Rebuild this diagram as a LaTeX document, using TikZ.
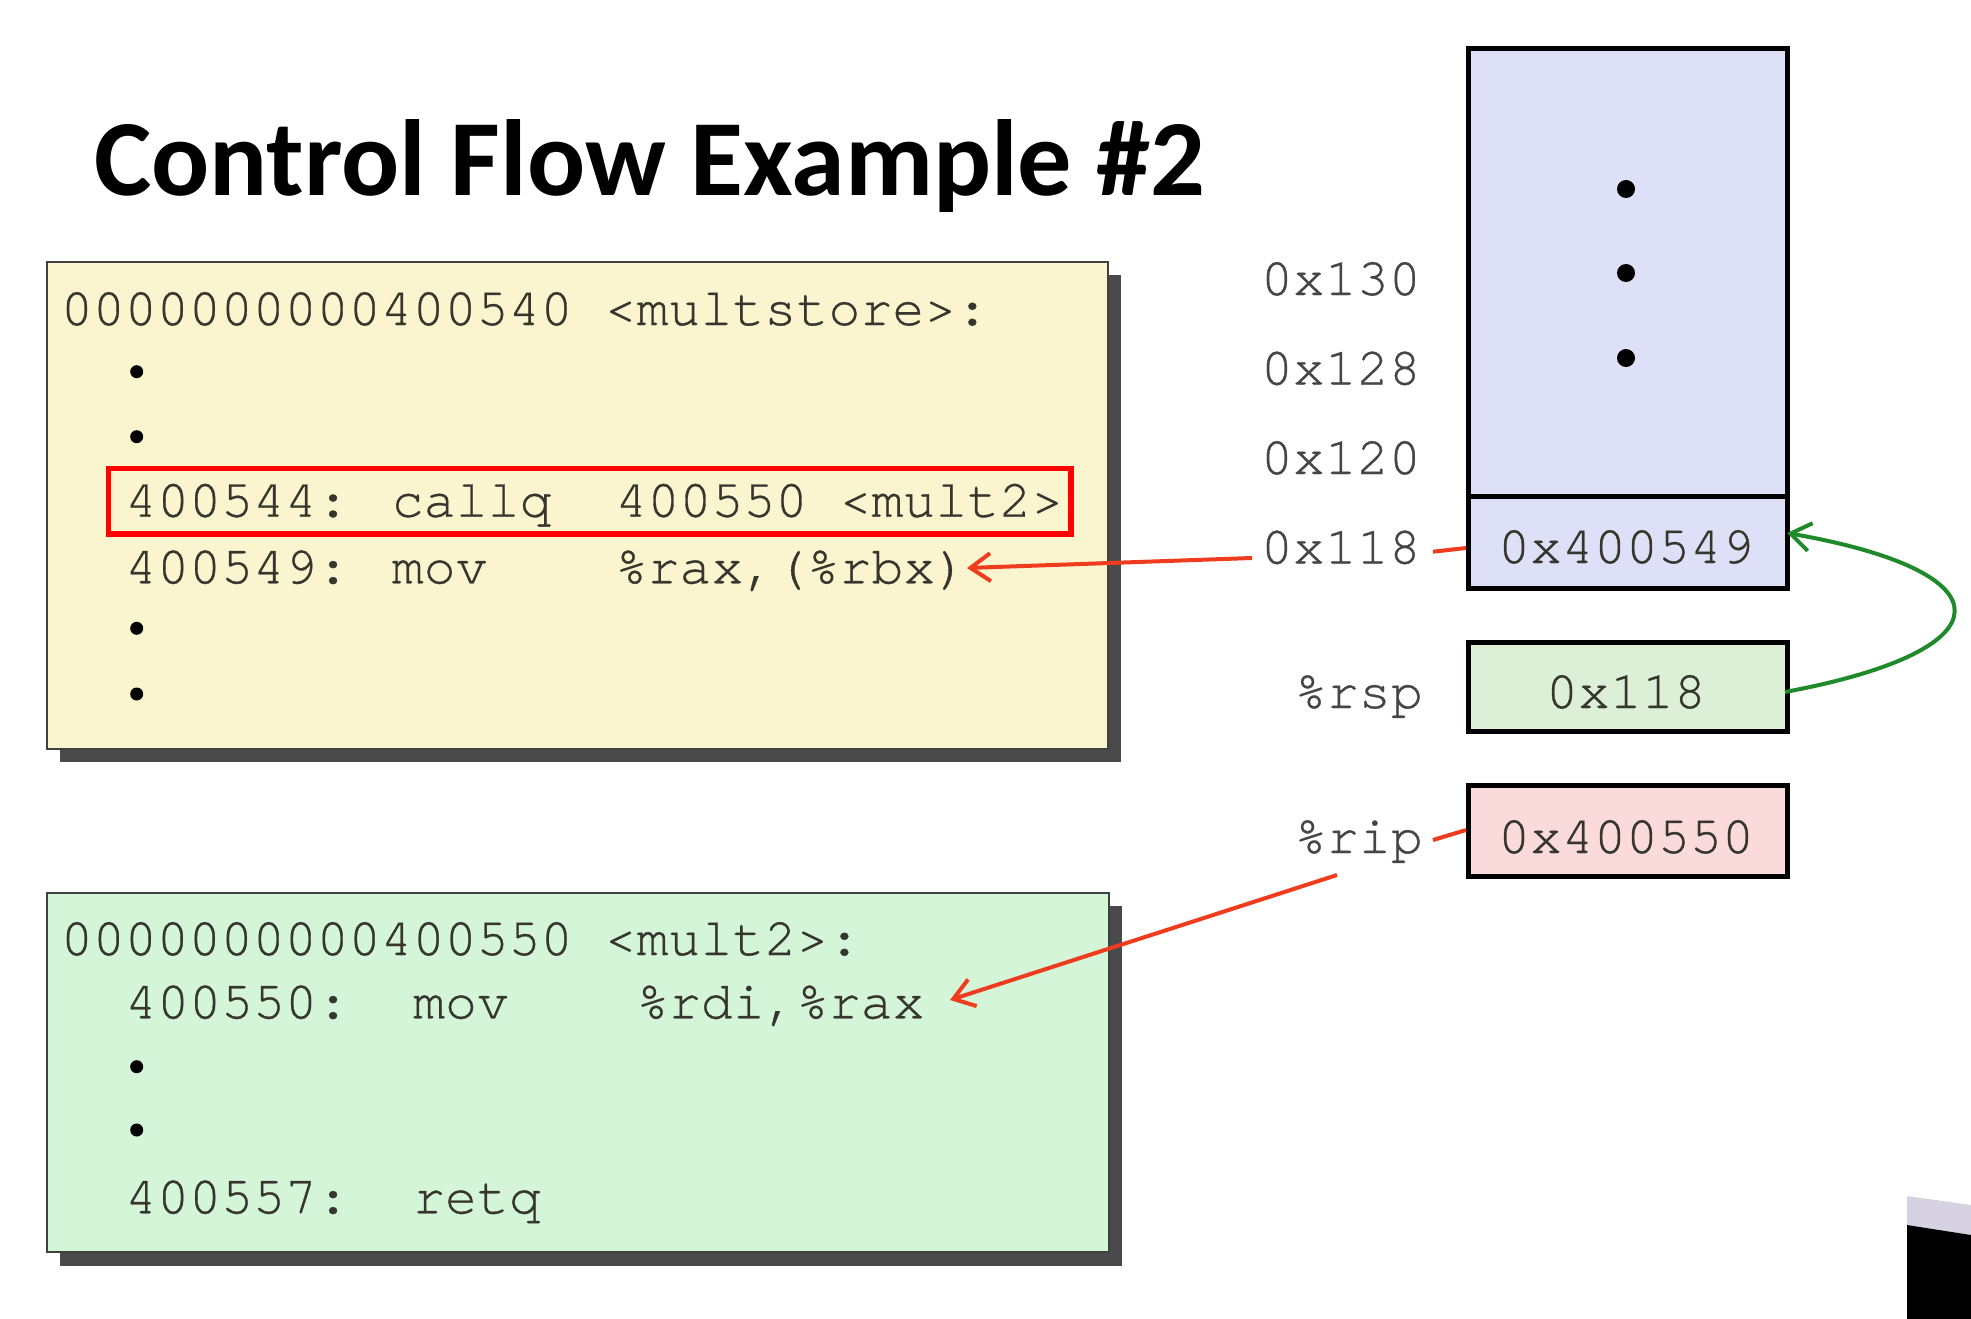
\documentclass[tikz,border=0pt]{standalone}
\usepackage{fontspec}
\setmainfont{Carlito}
\newfontfamily\codefont[FakeBold=0.6]{texgyrecursor-regular.otf}
\usetikzlibrary{arrows.meta}

\definecolor{codeyellow}{HTML}{FAF5CF}
\definecolor{codegreen}{HTML}{D4F5D8}
\definecolor{stackfill}{HTML}{DEE0F7}
\definecolor{rspfill}{HTML}{DCF0D7}
\definecolor{ripfill}{HTML}{FADADA}
\definecolor{shadowgray}{HTML}{4A4A4A}
\definecolor{codetext}{HTML}{36362E}
\definecolor{labeltext}{HTML}{454545}
\definecolor{arrowred}{HTML}{F03C1E}
\definecolor{arrowgreen}{HTML}{1F8A2A}
\definecolor{cornerlight}{HTML}{D6D2E2}

\begin{document}
\begin{tikzpicture}[x=1pt,y=-1pt,
  code/.style={anchor=base west, inner sep=0pt, text=codetext,
    font=\codefont\fontsize{53.3}{60}\selectfont},
  addr/.style={anchor=base east, inner sep=0pt, text=labeltext,
    font=\codefont\fontsize{53.3}{60}\selectfont},
  cellval/.style={anchor=base, inner sep=0pt, text=codetext,
    font=\codefont\fontsize{53.3}{60}\selectfont},
  cell/.style={draw=black, line width=5pt, anchor=north west,
    minimum width=319pt, inner sep=0pt},
  listing/.style={draw=black!75, line width=2.5pt},
  shadow/.style={fill=shadowgray},
  bullet/.style={circle, fill=black, inner sep=0pt, minimum size=13pt},
  stackdot/.style={circle, fill=black, inner sep=0pt, minimum size=18pt},
  tip/.style={-{Straight Barb[length=20pt,width=28pt]}},
  redarrow/.style={tip, draw=arrowred, line width=4pt},
  redline/.style={draw=arrowred, line width=4pt},
  greenarrow/.style={tip, draw=arrowgreen, line width=4pt}]

\useasboundingbox (0,0) rectangle (1971,1319);
\fill[white] (0,0) rectangle (1971,1319);

% title
\node[anchor=base west, inner sep=0pt, font=\bfseries\fontsize{108.3}{120}\selectfont]
  (title) at (94,195) {Control Flow Example \#2};

% listing of multstore
\fill[shadow] (60,275) rectangle (1121,762);
\draw[listing, fill=codeyellow] (47,262) rectangle (1108,749);
\node[code] (m0) at (60.7,325) {0000000000400540 <multstore>:};
\node[bullet] (md1) at (136.7,371.7) {};
\node[bullet] (md2) at (136.7,436.7) {};
\node[code] (m1) at (125,516.7) {400544: callq~~400550 <mult2>};
\node[code] (m2) at (125,583.3) {400549: mov~~~~\%rax,(\%rbx)};
\node[bullet] (md3) at (136.7,628.3) {};
\node[bullet] (md4) at (136.7,694) {};
\draw[draw=red, line width=5.5pt] (108.3,468.3) rectangle (1071,534);

% listing of mult2
\fill[shadow] (60,906) rectangle (1122,1266);
\draw[listing, fill=codegreen] (47,893) rectangle (1109,1252);
\node[code] (g0) at (60.7,955) {0000000000400550 <mult2>:};
\node[code] (g1) at (125,1018.3) {400550:~~mov~~~~\%rdi,\%rax};
\node[bullet] (gd1) at (136.7,1066.7) {};
\node[bullet] (gd2) at (136.7,1130) {};
\node[code] (g2) at (125,1213.3) {400557:~~retq};

% stack
\node[cell, fill=stackfill, minimum height=540pt] (stack) at (1466,46) {};
\node[stackdot] (sd1) at (1626,189) {};
\node[stackdot] (sd2) at (1626,273) {};
\node[stackdot] (sd3) at (1626,358) {};
\node[cell, fill=stackfill, minimum height=92pt] (slot) at (1466,494) {};
\node[cellval] (slotval) at (1626,563) {0x400549};

\node[addr] (a130) at (1421,295) {0x130};
\node[addr] (a128) at (1421,384.5) {0x128};
\node[addr] (a120) at (1421,474) {0x120};
\node[addr] (a118) at (1421,563.5) {0x118};

% registers
\node[cell, fill=rspfill, minimum height=89pt] (rsp) at (1466,640) {};
\node[cellval] (rspval) at (1626,708) {0x118};
\node[addr] (rsplbl) at (1423,708) {\%rsp};

\node[cell, fill=ripfill, minimum height=91pt] (rip) at (1466,783) {};
\node[cellval] (ripval) at (1626,853) {0x400550};
\node[addr] (riplbl) at (1423,853) {\%rip};

% connector end points
\coordinate (retsrc) at (1252,558);
\coordinate (rettgt) at (967,568);
\coordinate (tick118) at (1433,551.7);
\coordinate (slotin) at (1466,548);
\coordinate (tickrip) at (1433,840);
\coordinate (ripin) at (1466,830);
\coordinate (ripsrc) at (1337,875);
\coordinate (riptgt) at (950,1000);
\coordinate (rspout) at (1785,692);
\coordinate (slotout) at (1787,533);

% connectors
\draw[redarrow] (retsrc) -- (rettgt);
\draw[redline] (tick118) -- (slotin);
\draw[redline] (tickrip) -- (ripin);
\draw[redarrow] (ripsrc) -- (riptgt);
\draw[greenarrow] (rspout) .. controls (2010,650) and (2010,572) .. (slotout);

% dark corner at the lower right
\fill[cornerlight] (1907,1196) -- (1971,1205) -- (1971,1235) -- (1907,1225) -- cycle;
\fill[black] (1907,1225) -- (1971,1235) -- (1971,1319) -- (1907,1319) -- cycle;
\end{tikzpicture}
\end{document}
